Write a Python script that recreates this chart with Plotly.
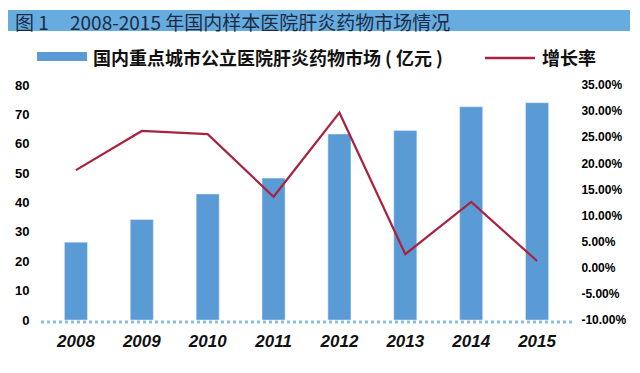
import plotly.graph_objects as go

years = ["2008", "2009", "2010", "2011", "2012", "2013", "2014", "2015"]
market = [26.5, 34.2, 42.9, 48.3, 63.3, 64.5, 72.6, 74.0]
growth = [18.7, 26.2, 25.6, 13.6, 29.7, 2.6, 12.6, 1.3]
right_ticks = [-10, -5, 0, 5, 10, 15, 20, 25, 30, 35]
right_labels = ["-10.00%", "-5.00%", "0.00%", "5.00%", "10.00%", "15.00%",
                "20.00%", "25.00%", "30.00%", "35.00%"]
title_fig = "图 1"
title_text = "2008-2015 年国内样本医院肝炎药物市场情况"
bar_name = "国内重点城市公立医院肝炎药物市场 ( 亿元 )"
line_name = "增长率"

BAR_C = "#5b9bd5"
LINE_C = "#a8233f"
FONT = "Liberation Sans, Arial, sans-serif"
CJK = "Noto Sans CJK SC"

fig = go.Figure()
fig.add_trace(go.Bar(x=years, y=market, name=bar_name, marker_color=BAR_C,
                     width=0.35, yaxis="y"))
fig.add_trace(go.Scatter(x=years, y=growth, name=line_name, mode="lines",
                         line=dict(color=LINE_C, width=2.2), yaxis="y2"))

# plot area in window pixel coordinates (page body has an 8px margin)
OFF = 8
L, T, PW, PH = 43, 85, 527, 235


def px(x):
    return (x - L) / PW


def py(y):
    return (T + PH - y) / PH


shapes = [
    dict(type="rect", xref="paper", yref="paper", x0=px(8), x1=px(630),
         y0=py(31), y1=py(10), fillcolor="#66acdf", line_width=0, layer="below"),
    dict(type="rect", xref="paper", yref="paper", x0=px(37), x1=px(87),
         y0=py(61), y1=py(52), fillcolor=BAR_C, line_width=0),
    dict(type="line", xref="paper", yref="paper", x0=px(485), x1=px(535),
         y0=py(58), y1=py(58), line=dict(color=LINE_C, width=2.5)),
    dict(type="line", xref="paper", yref="paper", x0=px(41), x1=px(573),
         y0=py(322), y1=py(322), line=dict(color="#8cbde6", width=3, dash="dot"),
         layer="above"),
]

annotations = [
    dict(text=title_fig, xref="paper", yref="paper", x=px(13), y=py(22),
         xanchor="left", yanchor="middle", showarrow=False,
         font=dict(family=CJK, size=19, color="#1c2b45")),
    dict(text=title_text, xref="paper", yref="paper", x=px(68), y=py(22),
         xanchor="left", yanchor="middle", showarrow=False,
         font=dict(family=CJK, size=19, color="#1c2b45")),
    dict(text="<b>" + bar_name + "</b>", xref="paper", yref="paper", x=px(91), y=py(57),
         xanchor="left", yanchor="middle", showarrow=False,
         font=dict(family=CJK, size=18, color="#111111")),
    dict(text="<b>" + line_name + "</b>", xref="paper", yref="paper", x=px(540), y=py(57),
         xanchor="left", yanchor="middle", showarrow=False,
         font=dict(family=CJK, size=18, color="#111111")),
]

fig.update_layout(
    width=640, height=373,
    margin=dict(l=L - OFF, r=640 - (L - OFF) - PW, t=T - OFF,
                b=373 - (T - OFF) - PH, autoexpand=False),
    paper_bgcolor="white", plot_bgcolor="white",
    showlegend=False,
    shapes=shapes, annotations=annotations,
    xaxis=dict(type="category", range=[-0.5, 7.5], showline=False, showgrid=False,
               automargin=False,
               ticks="outside", ticklen=6, tickcolor="rgba(0,0,0,0)",
               tickfont=dict(family=FONT, size=17, color="#111111", style="italic",
                             weight="bold")),
    yaxis=dict(range=[0, 80], dtick=10, showgrid=False, zeroline=False, showline=False,
               automargin=False,
               ticks="outside", ticklen=10, tickcolor="rgba(0,0,0,0)",
               tickfont=dict(family=FONT, size=13, color="#000000", weight="bold")),
    yaxis2=dict(range=[-10, 35], overlaying="y", side="right", showgrid=False,
                automargin=False,
                zeroline=False, showline=False, tickvals=right_ticks,
                ticktext=right_labels, ticks="outside", ticklen=8,
                tickcolor="rgba(0,0,0,0)",
                tickfont=dict(family=FONT, size=12, color="#000000", weight="bold")),
)

fig.write_html("out.html")
